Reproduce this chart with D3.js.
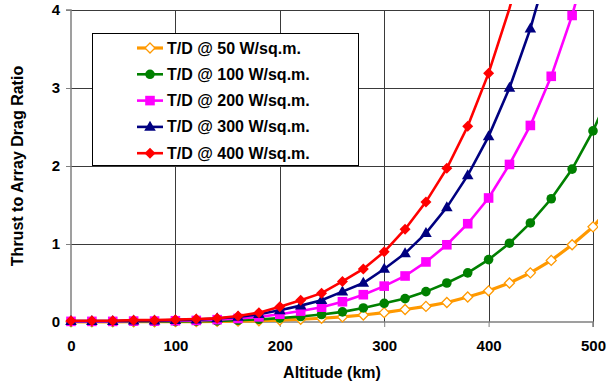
<html>
<head>
  <script src="https://d3js.org/d3.v7.min.js"></script>
  <style>
    body{ margin:0; background:#fff; }
    svg{ display:block; font-family: "Liberation Sans", Arial, sans-serif; font-weight:bold; }
  </style>
</head>
<body>
  <script type="text/javascript">

    // altitude (km)
    var altitude = [0,20,40,60,80,100,120,140,160,180,200,220,240,260,280,300,320,340,360,380,400,420,440,460,480,500,520];

    var td50  = [0.002,0.002,0.002,0.003,0.003,0.004,0.005,0.007,0.011,0.016,0.025,0.035,0.048,0.065,0.09,0.12,0.16,0.20,0.25,0.32,0.40,0.50,0.63,0.79,0.99,1.22,1.52];
    var td100 = [0.004,0.004,0.004,0.006,0.006,0.008,0.010,0.015,0.022,0.033,0.05,0.07,0.096,0.13,0.18,0.24,0.30,0.39,0.50,0.63,0.80,1.01,1.27,1.58,1.96,2.45,3.05];
    var td200 = [0.008,0.008,0.008,0.012,0.012,0.016,0.02,0.03,0.045,0.066,0.10,0.14,0.19,0.26,0.35,0.46,0.59,0.77,0.99,1.26,1.59,2.02,2.52,3.15,3.93,4.9,6.1];
    var td300 = [0.012,0.012,0.012,0.018,0.018,0.024,0.03,0.045,0.066,0.1,0.15,0.21,0.28,0.39,0.50,0.68,0.88,1.14,1.47,1.88,2.38,3.0,3.76,4.7,5.9,7.3,9.2];
    var td400 = [0.016,0.016,0.016,0.024,0.024,0.03,0.038,0.047,0.077,0.12,0.196,0.28,0.37,0.52,0.68,0.90,1.19,1.54,1.97,2.51,3.19,4.02,5.0,6.3,7.9,9.8,12.2];

    var seriesNames = ["T/D @ 50 W/sq.m.","T/D @ 100 W/sq.m.","T/D @ 200 W/sq.m.","T/D @ 300 W/sq.m.","T/D @ 400 W/sq.m."];
    var seriesColors = ["#FF9900","#008000","#FF00FF","#000080","#FF0000"];
    var seriesMarkers = ["diamondOpen","circle","square","triangle","diamond"];

    var xTicks = [0,100,200,300,400,500];
    var yTicks = [0,1,2,3,4];

    var series = [td50,td100,td200,td300,td400].map(function(vals,i){
      return {name:seriesNames[i], color:seriesColors[i], marker:seriesMarkers[i],
              points: vals.map(function(v,j){ return {x:altitude[j], y:v}; })};
    });

    var screen = {width:608, height:385};
    var svg = d3.select("body").append("svg")
      .attr("width",screen.width)
      .attr("height",screen.height);

    var plot = {left:71, top:10, right:593, bottom:322};

    var xScale = d3.scaleLinear().domain([0,500]).range([plot.left,plot.right]);
    var yScale = d3.scaleLinear().domain([0,4]).range([plot.bottom,plot.top]);

    // gridlines
    svg.append("g").selectAll("line")
      .data(yTicks.slice(1))
      .enter().append("line")
      .attr("x1",plot.left).attr("x2",plot.right)
      .attr("y1",function(d){return Math.round(yScale(d))+0.5})
      .attr("y2",function(d){return Math.round(yScale(d))+0.5})
      .attr("stroke","#3a3a3a").attr("stroke-width",1);

    svg.append("g").selectAll("line")
      .data(xTicks.slice(1))
      .enter().append("line")
      .attr("y1",plot.top).attr("y2",plot.bottom)
      .attr("x1",function(d){return Math.round(xScale(d))+0.5})
      .attr("x2",function(d){return Math.round(xScale(d))+0.5})
      .attr("stroke","#3a3a3a").attr("stroke-width",1);

    // axes
    var yAxis = d3.axisLeft(yScale).tickValues(yTicks).tickSize(5).tickPadding(6).tickFormat(d3.format("d"));
    var yg = svg.append("g").attr("transform","translate("+plot.left+",0)").call(yAxis);
    var xAxis = d3.axisBottom(xScale).tickValues(xTicks).tickSize(5).tickPadding(13).tickFormat(d3.format("d"));
    var xg = svg.append("g").attr("transform","translate(0,"+plot.bottom+")").call(xAxis);

    [yg,xg].forEach(function(g){
      g.select(".domain").attr("stroke","#808080").attr("stroke-width",1.5);
      g.selectAll(".tick line").attr("stroke","#808080");
      g.selectAll(".tick text").attr("fill","#000").style("font-size","15px").style("font-weight","bold")
        .style("font-family",'"Liberation Sans", Arial, sans-serif');
    });
    yg.select(".domain").attr("d","M-5,"+plot.top+"H0V"+plot.bottom+"H-5");
    xg.select(".domain").attr("d","M"+plot.left+",5V0H"+plot.right+"V5");

    // axis titles
    svg.append("text")
      .attr("x",(plot.left+plot.right)/2).attr("y",378)
      .attr("text-anchor","middle").style("font-size","16px")
      .text("Altitude (km)");
    svg.append("text")
      .attr("transform","translate(23,"+((plot.top+plot.bottom)/2)+") rotate(-90)")
      .attr("text-anchor","middle").style("font-size","16px")
      .text("Thrust to Array Drag Ratio");

    // data
    svg.append("clipPath").attr("id","clip")
      .append("rect").attr("x",0).attr("y",4).attr("width",598).attr("height",380);

    var line = d3.line().x(function(d){return xScale(d.x)}).y(function(d){return yScale(d.y)});

    var drawMarker = function(sel, s){
      if(s.marker=="circle"){
        sel.append("circle").attr("r",4.8).attr("fill",s.color);
      } else if(s.marker=="square"){
        sel.append("rect").attr("x",-4.8).attr("y",-4.8).attr("width",9.6).attr("height",9.6).attr("fill",s.color);
      } else if(s.marker=="triangle"){
        sel.append("path").attr("d",d3.symbol().type(d3.symbolTriangle).size(58)).attr("transform","translate(0,0.5)").attr("fill",s.color);
      } else if(s.marker=="diamond"){
        sel.append("path").attr("d","M0,-5.5L5.5,0L0,5.5L-5.5,0Z").attr("fill",s.color);
      } else {
        sel.append("path").attr("d","M0,-5L5,0L0,5L-5,0Z").attr("fill","#fff").attr("stroke",s.color).attr("stroke-width",1.3);
      }
    };

    var plotLand = svg.append("g").attr("clip-path","url(#clip)");
    series.forEach(function(s){
      var g = plotLand.append("g");
      g.append("path").datum(s.points)
        .attr("d",line)
        .attr("fill","none")
        .attr("stroke",s.color)
        .attr("stroke-width",s.marker=="diamondOpen"?3.2:2.6);
      g.selectAll("g")
        .data(s.points.filter(function(d){return d.x<=500 && d.y<=4}))
        .enter().append("g")
        .attr("transform",function(d){return "translate("+xScale(d.x)+","+yScale(d.y)+")"})
        .each(function(){ drawMarker(d3.select(this), s); });
    });

    // legend
    var legend = svg.append("g");
    legend.append("rect")
      .attr("x",92.5).attr("y",33.5).attr("width",266).attr("height",132)
      .attr("fill","#fff").attr("stroke","#000").attr("stroke-width",1);

    var legendLines = legend.selectAll("g.entry")
      .data(series).enter().append("g")
      .attr("class","entry")
      .attr("transform",function(d,i){return "translate(0,"+(48+i*26.3)+")"});

    legendLines.append("line")
      .attr("x1",137).attr("x2",163).attr("y1",0).attr("y2",0)
      .attr("stroke",function(d){return d.color})
      .attr("stroke-width",function(d){return d.marker=="diamondOpen"?3.2:2.6});
    legendLines.append("g").attr("transform","translate(150,0)")
      .each(function(d){ drawMarker(d3.select(this), d); });
    legendLines.append("text")
      .attr("x",167).attr("y",5.5)
      .style("font-size","16px")
      .text(function(d){return d.name});

  </script>
</body>
</html>
